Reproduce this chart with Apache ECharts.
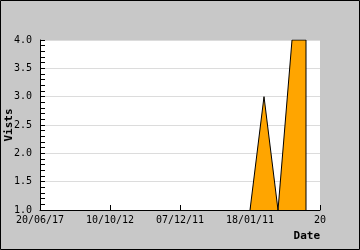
<!DOCTYPE html>
<html><head><meta charset="utf-8">
<script src="https://cdn.jsdelivr.net/npm/echarts@6/dist/echarts.min.js"></script>
<style>html,body{margin:0;padding:0;background:#c8c8c8}
#c{width:360px;height:250px}</style>
</head><body><div id="c"></div>
<script>
// tick labels along the x axis (index positions 0,5,10,15,20)
const xTickLabels = ["20/06/17", "10/10/12", "07/12/11", "18/01/11", "20"];
// series: x index positions and visit counts
const xIndex = [15, 16, 17, 18, 19, 19];
const visits = [1, 3, 1, 4, 4, 1];

const font = '"DejaVu Sans Mono", monospace';
const chart = echarts.init(document.getElementById('c'), null, {renderer: 'canvas'});
chart.setOption({
  animation: false,
  backgroundColor: '#c8c8c8',
  graphic: [{type: 'rect', z: 100, silent: true,
    shape: {x: 0.5, y: 0.5, width: 359, height: 249},
    style: {fill: null, stroke: '#000', lineWidth: 1}}],
  grid: {left: 40, right: 40, top: 40, bottom: 40, containLabel: false, outerBoundsMode: 'none',
    show: true, backgroundColor: '#fff', borderWidth: 0},
  xAxis: {
    type: 'value', min: 0, max: 20, interval: 5,
    name: 'Date', nameLocation: 'end', nameGap: 0, nameMoveOverlap: false,
    nameTextStyle: {fontFamily: font, fontWeight: 'bold', fontSize: 11, color: '#000', align: 'right', verticalAlign: 'top', padding: [21, 0, 0, 0]},
    axisLine: {show: true, lineStyle: {color: '#000', width: 1}},
    axisTick: {show: true, inside: true, length: 5, lineStyle: {color: '#000'}},
    splitLine: {show: false},
    axisLabel: {fontFamily: font, fontSize: 10, color: '#000', margin: 5,
      align: 'center', verticalAlign: 'top', hideOverlap: false,
      formatter: v => xTickLabels[Math.round(v / 5)] ?? ''}
  },
  yAxis: {
    type: 'value', min: 1, max: 4, interval: 0.5,
    name: 'Vists', nameLocation: 'middle', nameGap: 25, nameMoveOverlap: false,
    nameTextStyle: {fontFamily: font, fontWeight: 'bold', fontSize: 11, color: '#000'},
    axisLine: {show: true, lineStyle: {color: '#000', width: 1}},
    axisTick: {show: true, inside: true, length: 5, lineStyle: {color: '#000'}},
    minorTick: {show: true, splitNumber: 5, length: 5, lineStyle: {color: '#000', width: 1}},
    splitLine: {show: true, lineStyle: {color: '#dcdcdc', width: 1}},
    axisLabel: {fontFamily: font, fontSize: 10, color: '#000', margin: 8, hideOverlap: false,
      formatter: v => v.toFixed(1)}
  },
  series: [{
    type: 'line',
    data: xIndex.map((x, i) => [x, visits[i]]),
    symbol: 'none',
    lineStyle: {color: '#000', width: 1},
    areaStyle: {color: '#ffa500', opacity: 1, origin: 'start'}
  }]
});
</script></body></html>
